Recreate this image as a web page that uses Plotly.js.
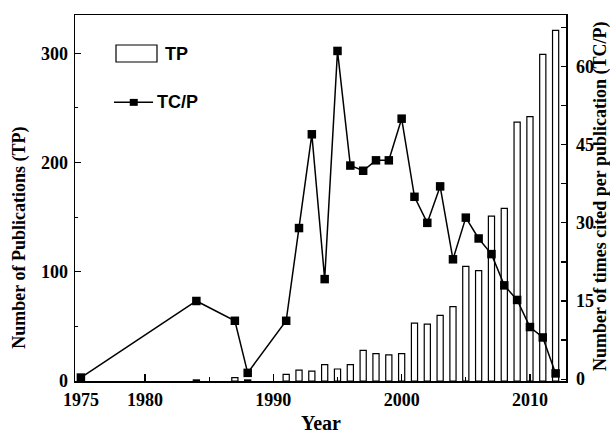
<!DOCTYPE html>
<html>
<head>
<meta charset="utf-8">
<script src="https://cdn.plot.ly/plotly-3.0.1.min.js"></script>
<style>html,body{margin:0;padding:0;background:#fff;}#chart{width:610px;height:437px;}</style>
</head>
<body>
<div id="chart"></div>
<script>
// TP (bars, left axis)
const tpYears = [1984, 1987, 1988, 1991, 1992, 1993, 1994, 1995, 1996, 1997, 1998, 1999, 2000,
                 2001, 2002, 2003, 2004, 2005, 2006, 2007, 2008, 2009, 2010, 2011, 2012];
const tpValues = [1, 3, 1, 6, 10, 9, 15, 11, 15, 28, 25, 24, 25,
                  53, 52, 60, 68, 105, 101, 151, 158, 237, 242, 299, 321];
// TC/P (line, right axis)
const tcpYears = [1975, 1984, 1987, 1988, 1991, 1992, 1993, 1994, 1995, 1996, 1997, 1998, 1999, 2000,
                  2001, 2002, 2003, 2004, 2005, 2006, 2007, 2008, 2009, 2010, 2011, 2012];
const tcpValues = [0.3, 15, 11.2, 1.2, 11.2, 29, 47, 19.2, 63, 41, 40, 42, 42, 50,
                   35, 30, 37, 23, 31, 27, 24, 18, 15.2, 10, 8, 1.1];
const xTickVals = [1975, 1980, 1990, 2000, 2010];
const xTickText = ['1975', '1980', '1990', '2000', '2010'];
const leftTicks = [0, 100, 200, 300];
const rightTicks = [0, 15, 30, 45, 60];

const serif = {family: 'Liberation Serif, Times New Roman, serif', size: 18, color: '#000', weight: 'bold'};
const sans = {family: 'Liberation Sans, Arial, sans-serif', size: 18, color: '#000', weight: 'bold'};

const traces = [
  {
    type: 'bar', x: tpYears, y: tpValues, name: 'TP', width: 0.48,
    marker: {color: '#fff', line: {color: '#000', width: 1.2}},
    yaxis: 'y', hoverinfo: 'x+y'
  },
  {
    type: 'scatter', mode: 'lines+markers', x: tcpYears, y: tcpValues, name: 'TC/P',
    line: {color: '#000', width: 1.5},
    marker: {symbol: 'square', size: 8.5, color: '#000'},
    yaxis: 'y2', cliponaxis: false
  }
];

const layout = {
  width: 610, height: 437,
  margin: {l: 75, r: 44, t: 15, b: 56},
  paper_bgcolor: '#fff', plot_bgcolor: '#fff',
  showlegend: false,
  bargap: 0,
  xaxis: {
    range: [1974.54, 2012.81], tickvals: xTickVals, ticktext: xTickText,
    ticks: 'inside', ticklen: 7, tickwidth: 1.2, tickcolor: '#000',
    minor: {dtick: 5, tick0: 1975, ticks: 'inside', ticklen: 4, tickwidth: 1.2, tickcolor: '#000'},
    showline: true, linecolor: '#000', linewidth: 1.5, mirror: true,
    showgrid: false, zeroline: false, tickfont: serif, ticklabelstandoff: 2
  },
  yaxis: {
    range: [0, 335], tickvals: leftTicks,
    ticks: 'inside', ticklen: 6, tickwidth: 1.2, tickcolor: '#000',
    minor: {dtick: 50, ticks: 'inside', ticklen: 3, tickwidth: 1.2, tickcolor: '#000'},
    showline: true, linecolor: '#000', linewidth: 1.5,
    showgrid: false, zeroline: false, tickfont: serif, ticklabelstandoff: 2
  },
  yaxis2: {
    overlaying: 'y', side: 'right',
    range: [-0.36, 69.9], tickvals: rightTicks,
    ticks: 'inside', ticklen: 5, tickwidth: 1.2, tickcolor: '#000',
    minor: {dtick: 7.5, ticks: 'inside', ticklen: 5, tickwidth: 1.2, tickcolor: '#000'},
    showline: true, linecolor: '#000', linewidth: 1.5,
    showgrid: false, zeroline: false, tickfont: serif, ticklabelstandoff: 5
  },
  shapes: [
    {type: 'rect', xref: 'paper', yref: 'paper', x0: 0.0835, x1: 0.167, y0: 0.8716, y1: 0.918,
     line: {color: '#000', width: 1.2}, fillcolor: '#fff'},
    {type: 'line', xref: 'paper', yref: 'paper', x0: 0.0794, x1: 0.1589, y0: 0.7613, y1: 0.7613,
     line: {color: '#000', width: 1.5}},
    {type: 'rect', xref: 'paper', yref: 'paper', x0: 0.1115, x1: 0.1278, y0: 0.7518, y1: 0.7708,
     line: {color: '#000', width: 0}, fillcolor: '#000'}
  ],
  annotations: [
    {text: 'TP', xref: 'paper', yref: 'paper', x: 0.179, y: 0.894, xanchor: 'left', yanchor: 'middle',
     showarrow: false, font: sans},
    {text: 'TC/P', xref: 'paper', yref: 'paper', x: 0.163, y: 0.7613, xanchor: 'left', yanchor: 'middle',
     showarrow: false, font: sans},
    {text: 'Number of Publications (TP)', xref: 'paper', yref: 'paper', x: -0.113, y: 0.39,
     xanchor: 'center', yanchor: 'middle', textangle: -90, showarrow: false, font: serif},
    {text: 'Number of times cited per publication (TC/P)', xref: 'paper', yref: 'paper', x: 1.0713, y: 0.503,
     xanchor: 'center', yanchor: 'middle', textangle: -90, showarrow: false, font: serif},
    {text: 'Year', xref: 'paper', yref: 'paper', x: 0.5, y: -0.115,
     xanchor: 'center', yanchor: 'middle', showarrow: false, font: Object.assign({}, serif, {size: 20})}
  ]
};

Plotly.newPlot('chart', traces, layout, {displayModeBar: false, staticPlot: true});
</script>
</body>
</html>
